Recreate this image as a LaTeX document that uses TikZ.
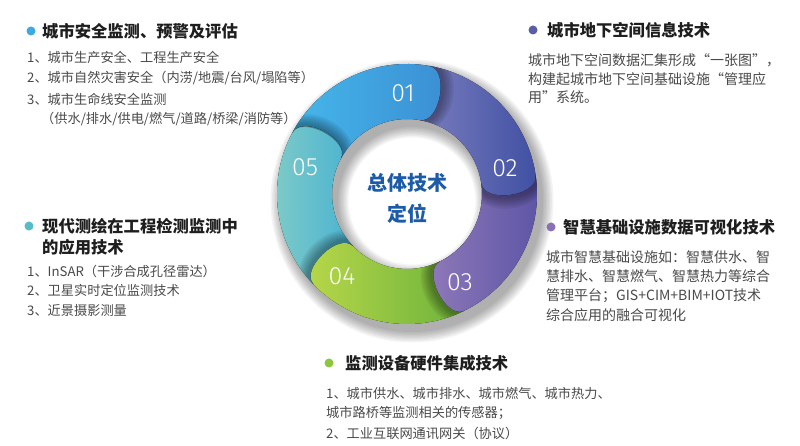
\documentclass[tikz,border=0pt]{standalone}
\usepackage{fontspec}
\setmainfont{Noto Sans CJK SC}
\IfFontExistsTF{Fira Sans Light}{\newfontfamily\numfont{Fira Sans Light}}{\newfontfamily\numfont{Fira Sans}}
\usetikzlibrary{calc}
\definecolor{cAL}{HTML}{45B7EA}\definecolor{cAR}{HTML}{3B8DD3}
\definecolor{cBL}{HTML}{7A7DBE}\definecolor{cBR}{HTML}{3F4FA2}
\definecolor{cCL}{HTML}{927BBA}\definecolor{cCR}{HTML}{5B54A5}
\definecolor{cDL}{HTML}{BBD84A}\definecolor{cDR}{HTML}{6DB33B}
\definecolor{cEL}{HTML}{82CDC6}\definecolor{cER}{HTML}{4AB2D2}
\definecolor{dA}{HTML}{3DA9E4}\definecolor{dB}{HTML}{5A5EA9}
\definecolor{dC}{HTML}{8A71B5}\definecolor{dD}{HTML}{8DC63F}
\definecolor{dE}{HTML}{56BCC9}
\definecolor{ctrc}{HTML}{1C5BA8}
\definecolor{headc}{HTML}{1E1E1E}
\definecolor{bodyc}{HTML}{4A4A4A}
% ring segment: from start angle #1 (concave start) clockwise to rounded head at #2
\newcommand\ringseg[2]{($(C)+(#1:130pt)$) arc[start angle=#1, end angle=#2, radius=130pt] .. controls +(#2-90:22pt) and +(#2-90:22pt) .. ($(C)+(#2:75pt)$) arc[start angle=#2, end angle=#1, radius=75pt] .. controls +(#1-90:20.5pt) and ($(C)+(#1:130pt)+(#1-90:20.5pt)$) .. ($(C)+(#1:130pt)$) -- cycle}
\newcommand\headshadow[1]{%
  \begin{scope}[shift={($(C)+(#1:102.5pt)+(#1-90:5pt)$)}, rotate=#1]
    \foreach \k in {1,...,7}{\fill[black, opacity=0.055] (0,0) ellipse [x radius={27.5pt+\k*1.3pt}, y radius={12pt+\k*1.7pt}];}
  \end{scope}}
\tikzset{
  headtext/.style={anchor=west, inner sep=0pt, text=headc, font=\fontsize{16.3}{16.3}\selectfont\bfseries},
  bodytext/.style={anchor=west, inner sep=0pt, text=bodyc, font=\fontsize{13.2}{13.2}\selectfont},
  bodyR/.style={bodytext, font=\fontsize{14}{14}\selectfont},
  numtext/.style={inner sep=0pt, text=white, font=\numfont\fontsize{25}{25}\selectfont},
  dotmark/.style={circle, inner sep=0pt, minimum size=9pt},
}
\begin{document}
\begin{tikzpicture}[x=1pt,y=1pt]
\useasboundingbox (0,0) rectangle (800,446);
\fill[white] (0,0) rectangle (800,446);
\coordinate (C) at (407,252);
% ring drop shadow
\foreach \k in {0,...,7}{\fill[black,opacity=0.045,even odd rule] ($(C)+(5pt,-7pt)$) circle [radius={131pt+\k*1.5pt}] circle [radius={74pt-\k*1.5pt}];}
% segments
\fill[left color=cAL, right color=cAR] \ringseg{152}{80};
\fill[left color=cBL, right color=cBR] \ringseg{80}{8};
\fill[left color=cCL, right color=cCR] \ringseg{8}{-64};
\fill[left color=cDL, right color=cDR] \ringseg{-64}{-136};
\fill[left color=cEL, right color=cER] \ringseg{-136}{-208};
% head shadows cast on the following segment
\begin{scope}\clip \ringseg{80}{8}; \headshadow{80}\end{scope}
\begin{scope}\clip \ringseg{8}{-64}; \headshadow{8}\end{scope}
\begin{scope}\clip \ringseg{-64}{-136}; \headshadow{-64}\end{scope}
\begin{scope}\clip \ringseg{-136}{-208}; \headshadow{-136}\end{scope}
\begin{scope}\clip \ringseg{152}{80}; \headshadow{152}\end{scope}
% numbers
\node[numtext] (n1) at (403,353) {01};
\node[numtext] (n2) at (505,278) {02};
\node[numtext] (n3) at (460,164) {03};
\node[numtext] (n4) at (342,170) {04};
\node[numtext] (n5) at (305,279) {05};
% centre
\node[text=ctrc, align=center, inner sep=0pt, font=\fontsize{20}{31}\selectfont\bfseries] (ctr) at (407,248) {总体技术\\定位};
% block 1
\node[dotmark, fill=dA] (b1) at (31,415) {};
\node[headtext] (h1) at (42,415) {城市安全监测、预警及评估};
\node[bodytext] (t11) at (27,389) {1、城市生产安全、工程生产安全};
\node[bodytext] (t12) at (27,368) {2、城市自然灾害安全（内涝/地震/台风/塌陷等）};
\node[bodytext] (t13) at (27,347) {3、城市生命线安全监测};
\node[bodytext] (t14) at (41,327) {（供水/排水/供电/燃气/道路/桥梁/消防等）};
% block 2
\node[dotmark, fill=dB] (b2) at (533,416) {};
\node[headtext] (h2) at (547,416) {城市地下空间信息技术};
\node[bodyR] (t21) at (528,386) {城市地下空间数据汇集形成“一张图”，};
\node[bodyR] (t22) at (528,367) {构建起城市地下空间基础设施“管理应};
\node[bodyR] (t23) at (528,349) {用”系统。};
% block 3
\node[dotmark, fill=dE] (b3) at (29,220) {};
\node[headtext] (h3a) at (42,220) {现代测绘在工程检测监测中};
\node[headtext] (h3b) at (42,199) {的应用技术};
\node[bodytext] (t31) at (27,175) {1、InSAR（干涉合成孔径雷达）};
\node[bodytext] (t32) at (27,156) {2、卫星实时定位监测技术};
\node[bodytext] (t33) at (27,136) {3、近景摄影测量};
% block 4
\node[dotmark, fill=dC] (b4) at (551,219) {};
\node[headtext] (h4) at (563,219) {智慧基础设施数据可视化技术};
\node[bodyR] (t41) at (546,189) {城市智慧基础设施如：智慧供水、智};
\node[bodyR] (t42) at (546,170) {慧排水、智慧燃气、智慧热力等综合};
\node[bodyR] (t43) at (546,150) {管理平台；GIS+CIM+BIM+IOT技术};
\node[bodyR] (t44) at (546,131) {综合应用的融合可视化};
% block 5
\node[dotmark, fill=dD] (b5) at (329,83) {};
\node[headtext] (h5) at (345,83) {监测设备硬件集成技术};
\node[bodytext] (t51) at (326,53) {1、城市供水、城市排水、城市燃气、城市热力、};
\node[bodytext] (t52) at (326,33) {城市路桥等监测相关的传感器；};
\node[bodytext] (t53) at (326,13) {2、工业互联网通讯网关（协议）};
\end{tikzpicture}
\end{document}
